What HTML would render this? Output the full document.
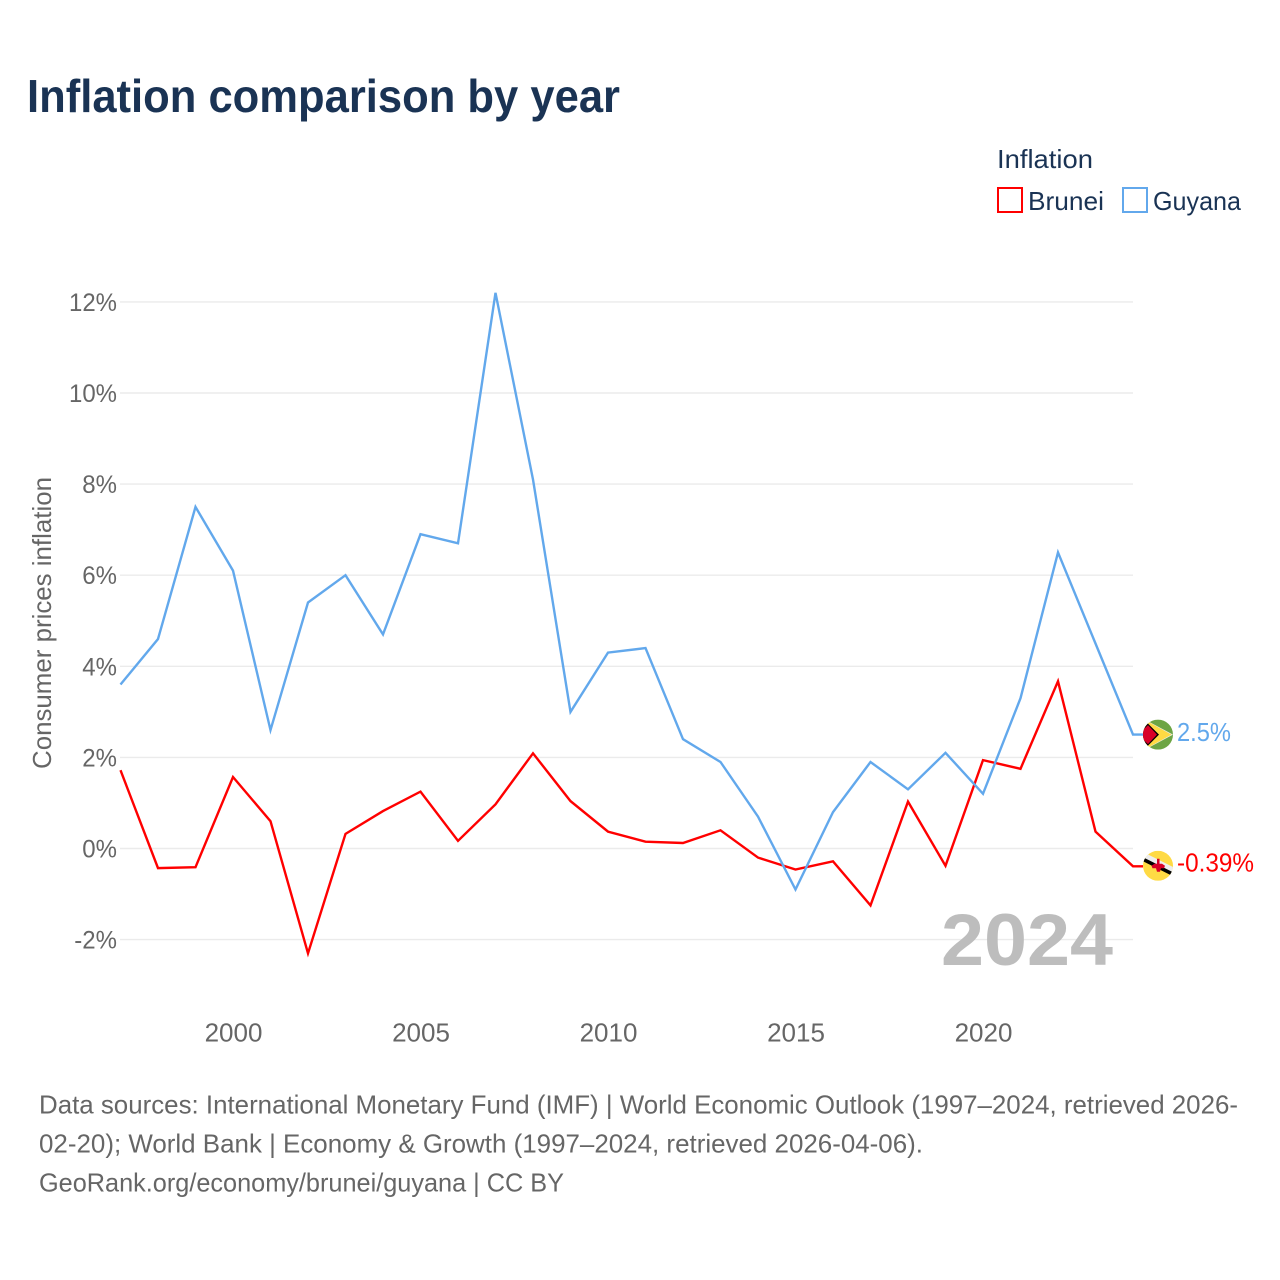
<!DOCTYPE html>
<html><head><meta charset="utf-8"><title>Inflation comparison by year</title>
<style>
html,body{margin:0;padding:0;background:#fff}
svg{display:block}
text{font-family:"Liberation Sans",sans-serif}
</style></head>
<body>
<svg id="chart" width="1280" height="1280" viewBox="0 0 1280 1280" xmlns="http://www.w3.org/2000/svg">
<defs>
<clipPath id="clip-guyana"><circle cx="0" cy="0" r="15"/></clipPath>
<clipPath id="clip-brunei"><circle cx="0" cy="0" r="15"/></clipPath>
</defs>
<rect width="1280" height="1280" fill="#fff"/>
<text x="27" y="112" font-size="46" font-weight="700" fill="#1a3354" textLength="593" lengthAdjust="spacingAndGlyphs">Inflation comparison by year</text>
<g>
<text x="997" y="168" font-size="26" fill="#1a3354" textLength="96" lengthAdjust="spacingAndGlyphs">Inflation</text>
<rect x="998" y="188" width="24" height="24" fill="#fff" stroke="#ff0000" stroke-width="2"/>
<text x="1028" y="210" font-size="26" fill="#1a3354" textLength="76" lengthAdjust="spacingAndGlyphs">Brunei</text>
<rect x="1123" y="188" width="24" height="24" fill="#fff" stroke="#62a8ec" stroke-width="2"/>
<text x="1153" y="210" font-size="26" fill="#1a3354" textLength="88" lengthAdjust="spacingAndGlyphs">Guyana</text>
</g>
<g id="grid"></g>
<g id="yticks"></g>
<g id="xticks"></g>
<text transform="translate(51,769) rotate(-90)" font-size="26" fill="#666" textLength="292" lengthAdjust="spacingAndGlyphs">Consumer prices inflation</text>
<text x="941" y="965" font-size="73" font-weight="700" fill="#bdbdbd" textLength="172" lengthAdjust="spacingAndGlyphs">2024</text>
<g id="series"></g>
<g id="flag-guyana">
<g clip-path="url(#clip-guyana)">
<rect x="-15" y="-15" width="30" height="30" fill="#6da544"/>
<polygon points="-13,-15 15,0 -13,15 -20,0" fill="#eeeeee"/>
<polygon points="-11,-13.500 13.500,0 -11,13.500 -20,0" fill="#ffda44"/>
<polygon points="-11,-12 1,0 -11,12 -20,0" fill="#000"/>
<polygon points="-10,-9.500 -1,0 -10,9.500 -20,0" fill="#d80027"/>
</g>
</g>
<g id="flag-brunei">
<g clip-path="url(#clip-brunei)">
<rect x="-15" y="-15" width="30" height="30" fill="#ffda44"/>
<line x1="-17" y1="-12" x2="17" y2="5" stroke="#eeeeee" stroke-width="5"/>
<line x1="-17" y1="-7.500" x2="17" y2="9.500" stroke="#000" stroke-width="3.600"/>
<path d="M-1,-7h2.500v5h2.500l3,2 -1,2.500h-3l-1,3.500h-3l-1,-3.500h-3.500l-1,-2.500 3,-2h2.500z" fill="#d80027"/>
</g>
</g>
<text id="label-guyana" x="1177" font-size="26" fill="#62a8ec" textLength="54" lengthAdjust="spacingAndGlyphs"></text>
<text id="label-brunei" x="1177" font-size="26" fill="#ff0000" textLength="77" lengthAdjust="spacingAndGlyphs"></text>
<g font-size="26" fill="#666">
<text x="39" y="1113.500" textLength="1199" lengthAdjust="spacingAndGlyphs">Data sources: International Monetary Fund (IMF) | World Economic Outlook (1997–2024, retrieved 2026-</text>
<text x="39" y="1152.500" textLength="884" lengthAdjust="spacingAndGlyphs">02-20); World Bank | Economy &amp; Growth (1997–2024, retrieved 2026-04-06).</text>
<text x="39" y="1191.500" textLength="525" lengthAdjust="spacingAndGlyphs">GeoRank.org/economy/brunei/guyana | CC BY</text>
</g>
</svg>
<script>
const years = [1997,1998,1999,2000,2001,2002,2003,2004,2005,2006,2007,2008,2009,2010,2011,2012,2013,2014,2015,2016,2017,2018,2019,2020,2021,2022,2023,2024];
const brunei = [1.72,-0.43,-0.41,1.57,0.6,-2.3,0.32,0.82,1.25,0.17,0.97,2.09,1.04,0.37,0.15,0.12,0.4,-0.2,-0.46,-0.28,-1.25,1.03,-0.38,1.94,1.75,3.67,0.37,-0.39];
const guyana = [3.6,4.6,7.5,6.1,2.6,5.4,6.0,4.7,6.9,6.7,12.2,8.1,3.0,4.3,4.4,2.4,1.9,0.7,-0.9,0.8,1.9,1.3,2.1,1.2,3.3,6.5,4.5,2.5];
const yTickValues = [-2,0,2,4,6,8,10,12];
const xTickValues = [2000,2005,2010,2015,2020];

const NS = 'http://www.w3.org/2000/svg';
function xScale(year){ return 120.5 + (year - 1997) * 37.5; }
function yScale(v){ return 848.5 - v * 45.55; }
function mk(tag, attrs, parent){
  const el = document.createElementNS(NS, tag);
  for (const k in attrs) el.setAttribute(k, attrs[k]);
  parent.appendChild(el);
  return el;
}
const grid = document.getElementById('grid');
const yt = document.getElementById('yticks');
const xt = document.getElementById('xticks');
const seriesGroup = document.getElementById('series');

yTickValues.forEach(function(v){
  const line = mk('line', {x1:120, x2:1133, y1:yScale(v), y2:yScale(v), stroke:'#ebebeb', 'stroke-width':1.4}, grid);
  
  
  const t = mk('text', {x:117, y:yScale(v)+9, 'text-anchor':'end', 'font-size':25, fill:'#666', lengthAdjust:'spacingAndGlyphs'}, yt);
  
  
  t.textContent = v + '%';
  t.setAttribute('textLength', (t.getComputedTextLength() * 0.96).toFixed(1));
});
xTickValues.forEach(function(y){
  const t = mk('text', {x:xScale(y)+0.5, y:1041.5, 'text-anchor':'middle', 'font-size':26, fill:'#666'}, xt);
  
  
  t.textContent = y;
});
function linePath(vals){
  const last = vals[vals.length - 1];
  return vals.map(function(v,i){ return (i?'L':'M') + xScale(years[i]).toFixed(1) + ' ' + yScale(v).toFixed(1); }).join(' ') + ' L1143 ' + yScale(last).toFixed(1);
}
const lineB = mk('path', {d:linePath(brunei), fill:'none', stroke:'#ff0000', 'stroke-width':2.4, 'stroke-linejoin':'miter'}, seriesGroup);


const lineG = mk('path', {d:linePath(guyana), fill:'none', stroke:'#62a8ec', 'stroke-width':2.4, 'stroke-linejoin':'miter'}, seriesGroup);



const lastG = guyana[guyana.length-1], lastB = brunei[brunei.length-1];
document.getElementById('flag-guyana').setAttribute('transform', 'translate(1158,' + yScale(lastG).toFixed(1) + ')');
document.getElementById('flag-brunei').setAttribute('transform', 'translate(1158,' + (yScale(lastB)-0.5).toFixed(1) + ')');
const lg = document.getElementById('label-guyana');
lg.setAttribute('y', (yScale(lastG)+6.5).toFixed(1));
lg.textContent = lastG + '%';
const lb = document.getElementById('label-brunei');
lb.setAttribute('y', (yScale(lastB)+5).toFixed(1));
lb.textContent = lastB + '%';
</script>
</body></html>
